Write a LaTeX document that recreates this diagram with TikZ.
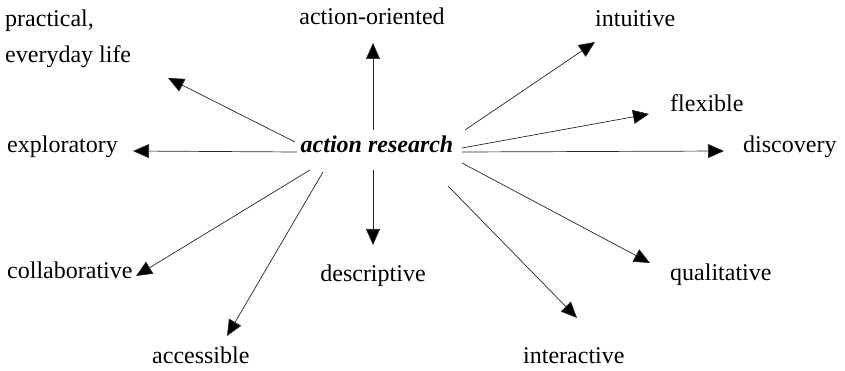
\documentclass[tikz,border=0pt]{standalone}
\usepackage{fontspec}
\setmainfont{Liberation Serif}
\usetikzlibrary{arrows.meta}
\begin{document}
\begin{tikzpicture}[x=1pt,y=-1pt,
  lbl/.style={font=\fontsize{24}{28}\selectfont, inner sep=0pt},
  ray/.style={line width=0.7pt, draw=black!85,
    -{Triangle[length=16pt,width=14pt,fill=black]}}]
\useasboundingbox (0,0) rectangle (845,371);

% central term
\node[lbl, anchor=base] (ar) at (377,153) {\bfseries\itshape action research};

% surrounding characteristics
\node[lbl, anchor=base]      (ao)  at (372,25)  {action-oriented};
\node[lbl, anchor=base west] (int) at (595,27)  {intuitive};
\node[lbl, anchor=base west] (pr1) at (5,27)    {practical,};
\node[lbl, anchor=base west] (pr2) at (5,63)    {everyday life};
\node[lbl, anchor=base west] (flx) at (670,112) {flexible};
\node[lbl, anchor=base west] (exp) at (7,153)   {exploratory};
\node[lbl, anchor=base west] (dis) at (743,153) {discovery};
\node[lbl, anchor=base west] (col) at (7,278)   {collaborative};
\node[lbl, anchor=base]      (des) at (373,281) {descriptive};
\node[lbl, anchor=base west] (qua) at (670,280) {qualitative};
\node[lbl, anchor=base west] (acc) at (152,363) {accessible};
\node[lbl, anchor=base west] (ia)  at (523,363) {interactive};

% start points around the central term
\coordinate (s-ao)  at (373,130);
\coordinate (s-des) at (373,170);
\coordinate (s-pr)  at (295,142);
\coordinate (s-exp) at (297,152);
\coordinate (s-col) at (310,170);
\coordinate (s-acc) at (323,172);
\coordinate (s-ia)  at (448,186);
\coordinate (s-qua) at (462,163);
\coordinate (s-dis) at (462,152);
\coordinate (s-flx) at (462,148);
\coordinate (s-int) at (465,130);

% arrow tips
\coordinate (t-ao)  at (373,43);
\coordinate (t-des) at (373,245);
\coordinate (t-pr)  at (168,78);
\coordinate (t-exp) at (133,151);
\coordinate (t-col) at (136,276);
\coordinate (t-acc) at (227,336);
\coordinate (t-ia)  at (577,318);
\coordinate (t-qua) at (650,263);
\coordinate (t-dis) at (724,151);
\coordinate (t-flx) at (649,114);
\coordinate (t-int) at (595,42);

\foreach \k in {ao,des,pr,exp,col,acc,ia,qua,dis,flx,int}
  \draw[ray] (s-\k) -- (t-\k);
\end{tikzpicture}
\end{document}
